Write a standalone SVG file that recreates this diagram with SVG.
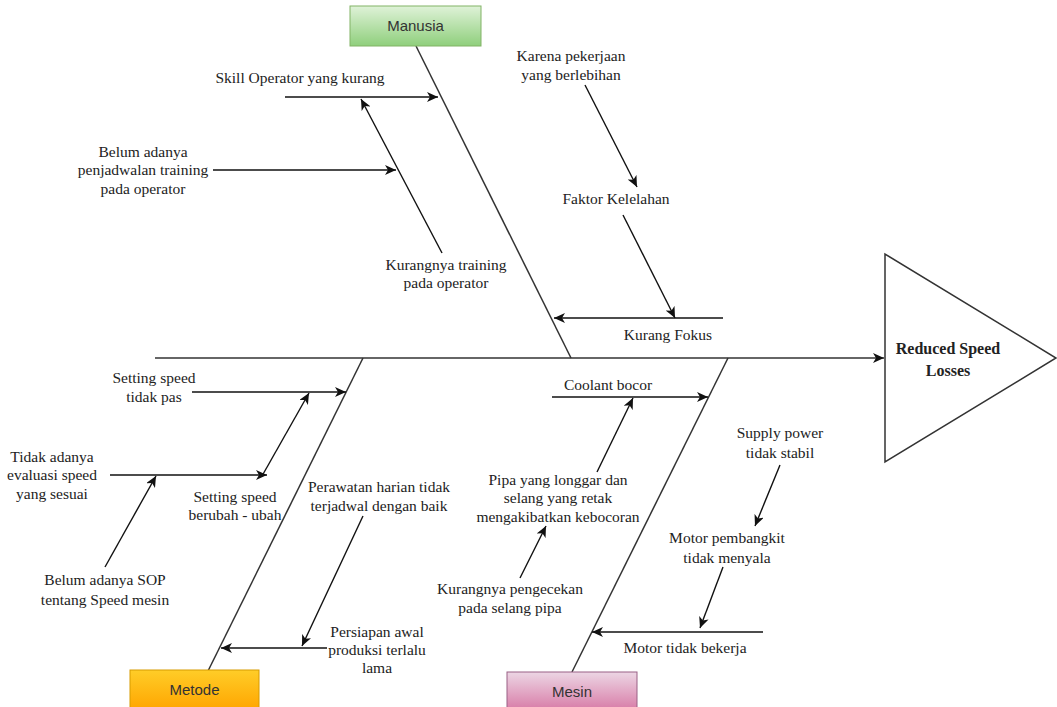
<svg xmlns="http://www.w3.org/2000/svg" width="1057" height="707" viewBox="0 0 1057 707">
<style>
.t{font-family:"Liberation Serif","Times New Roman",serif;font-size:15.5px;fill:#222;text-anchor:middle}
.b{font-family:"Liberation Sans",Arial,sans-serif;font-size:15px;fill:#333;text-anchor:middle}
.big{font-family:"Liberation Serif","Times New Roman",serif;font-size:16px;font-weight:bold;fill:#222;text-anchor:middle}
.a{stroke:#111;stroke-width:1.4;fill:none;marker-end:url(#ah)}
.bone{stroke:#333;stroke-width:1.5;fill:none}
</style>
<defs>
<marker id="ah" markerUnits="userSpaceOnUse" markerWidth="12" markerHeight="10" refX="11" refY="5" orient="auto">
<path d="M0,0 L11,5 L0,10 L3,5 z" fill="#111"/>
</marker>
<linearGradient id="gG" x1="0" y1="0" x2="0" y2="1"><stop offset="0" stop-color="#dff2d8"/><stop offset="1" stop-color="#8fcf7c"/></linearGradient>
<linearGradient id="gO" x1="0" y1="0" x2="0" y2="1"><stop offset="0" stop-color="#ffcd28"/><stop offset="1" stop-color="#ffa500"/></linearGradient>
<linearGradient id="gP" x1="0" y1="0" x2="0" y2="1"><stop offset="0" stop-color="#ecd6e4"/><stop offset="1" stop-color="#d777a4"/></linearGradient>
</defs>
<rect width="1057" height="707" fill="#fff"/>

<g id="connectors">
<line class="bone" x1="155" y1="358" x2="884" y2="358" style="marker-end:url(#ah)"/>
<line class="bone" x1="416" y1="46" x2="571" y2="358"/>
<line class="bone" x1="208" y1="671" x2="363" y2="358"/>
<line class="bone" x1="572" y1="672" x2="728" y2="358"/>
<!-- Manusia -->
<line class="a" x1="285" y1="97" x2="438" y2="97"/>
<line class="a" x1="213" y1="170" x2="396" y2="170"/>
<line class="a" x1="442" y1="253" x2="361" y2="99"/>
<line class="a" x1="585" y1="85" x2="637" y2="187"/>
<line class="a" x1="623" y1="215" x2="675" y2="318"/>
<line class="a" x1="723" y1="318" x2="554" y2="318"/>
<!-- Metode -->
<line class="a" x1="192" y1="392" x2="346" y2="392"/>
<line class="a" x1="110" y1="475" x2="267" y2="475"/>
<line class="a" x1="262" y1="476" x2="309" y2="393"/>
<line class="a" x1="105" y1="567" x2="156" y2="476"/>
<line class="a" x1="363" y1="516" x2="302" y2="646"/>
<line class="a" x1="327" y1="648" x2="221" y2="648"/>
<!-- Mesin -->
<line class="a" x1="552" y1="397" x2="708" y2="397"/>
<line class="a" x1="597" y1="472" x2="633" y2="398"/>
<line class="a" x1="520" y1="578" x2="546" y2="526"/>
<line class="a" x1="780" y1="465" x2="755" y2="526"/>
<line class="a" x1="723" y1="567" x2="700" y2="628"/>
<line class="a" x1="763" y1="632" x2="592" y2="632"/>
</g>

<g id="effect">
<polygon points="885,254 885,462 1056,358" fill="#fff" stroke="#333" stroke-width="1.5"/>
<text class="big" x="948" y="354">Reduced Speed</text>
<text class="big" x="948" y="376">Losses</text>
</g>

<g id="manusia">
<rect x="350" y="6" width="131" height="40" fill="url(#gG)" stroke="#82b366" stroke-width="1"/>
<text class="b" x="415.5" y="31">Manusia</text>
</g>
<g id="metode">
<rect x="130" y="670" width="129" height="40" fill="url(#gO)" stroke="#d79b00" stroke-width="1"/>
<text class="b" x="194.5" y="695">Metode</text>
</g>
<g id="mesin">
<rect x="507" y="672" width="130" height="40" fill="url(#gP)" stroke="#996185" stroke-width="1"/>
<text class="b" x="572" y="697">Mesin</text>
</g>

<g id="skill"><text class="t" x="300" y="83">Skill Operator yang kurang</text></g>
<g id="karena"><text class="t" x="571" y="61">Karena pekerjaan</text><text class="t" x="571" y="80">yang berlebihan</text></g>
<g id="belum-jadwal"><text class="t" x="143" y="157">Belum adanya</text><text class="t" x="143" y="175">penjadwalan training</text><text class="t" x="143" y="194">pada operator</text></g>
<g id="faktor"><text class="t" x="616" y="204">Faktor Kelelahan</text></g>
<g id="kurang-training"><text class="t" x="446" y="270">Kurangnya training</text><text class="t" x="446" y="288">pada operator</text></g>
<g id="kurang-fokus"><text class="t" x="668" y="340">Kurang Fokus</text></g>

<g id="setting-pas"><text class="t" x="154" y="383">Setting speed</text><text class="t" x="154" y="402">tidak pas</text></g>
<g id="tidak-evaluasi"><text class="t" x="52" y="462">Tidak adanya</text><text class="t" x="52" y="480">evaluasi speed</text><text class="t" x="52" y="499">yang sesuai</text></g>
<g id="setting-ubah"><text class="t" x="235" y="502">Setting speed</text><text class="t" x="235" y="520">berubah - ubah</text></g>
<g id="perawatan"><text class="t" x="379" y="492">Perawatan harian tidak</text><text class="t" x="379" y="511">terjadwal dengan baik</text></g>
<g id="belum-sop"><text class="t" x="105" y="585">Belum adanya SOP</text><text class="t" x="105" y="605">tentang Speed mesin</text></g>
<g id="persiapan"><text class="t" x="377" y="637">Persiapan awal</text><text class="t" x="377" y="655">produksi terlalu</text><text class="t" x="377" y="673">lama</text></g>

<g id="coolant"><text class="t" x="608" y="390">Coolant bocor</text></g>
<g id="pipa"><text class="t" x="558" y="485">Pipa yang longgar dan</text><text class="t" x="558" y="503">selang yang retak</text><text class="t" x="558" y="522">mengakibatkan kebocoran</text></g>
<g id="pengecekan"><text class="t" x="510" y="594">Kurangnya pengecekan</text><text class="t" x="510" y="613">pada selang pipa</text></g>
<g id="supply"><text class="t" x="780" y="438">Supply power</text><text class="t" x="780" y="458">tidak stabil</text></g>
<g id="motor-pembangkit"><text class="t" x="727" y="543">Motor pembangkit</text><text class="t" x="727" y="563">tidak menyala</text></g>
<g id="motor-bekerja"><text class="t" x="685" y="653">Motor tidak bekerja</text></g>
</svg>
